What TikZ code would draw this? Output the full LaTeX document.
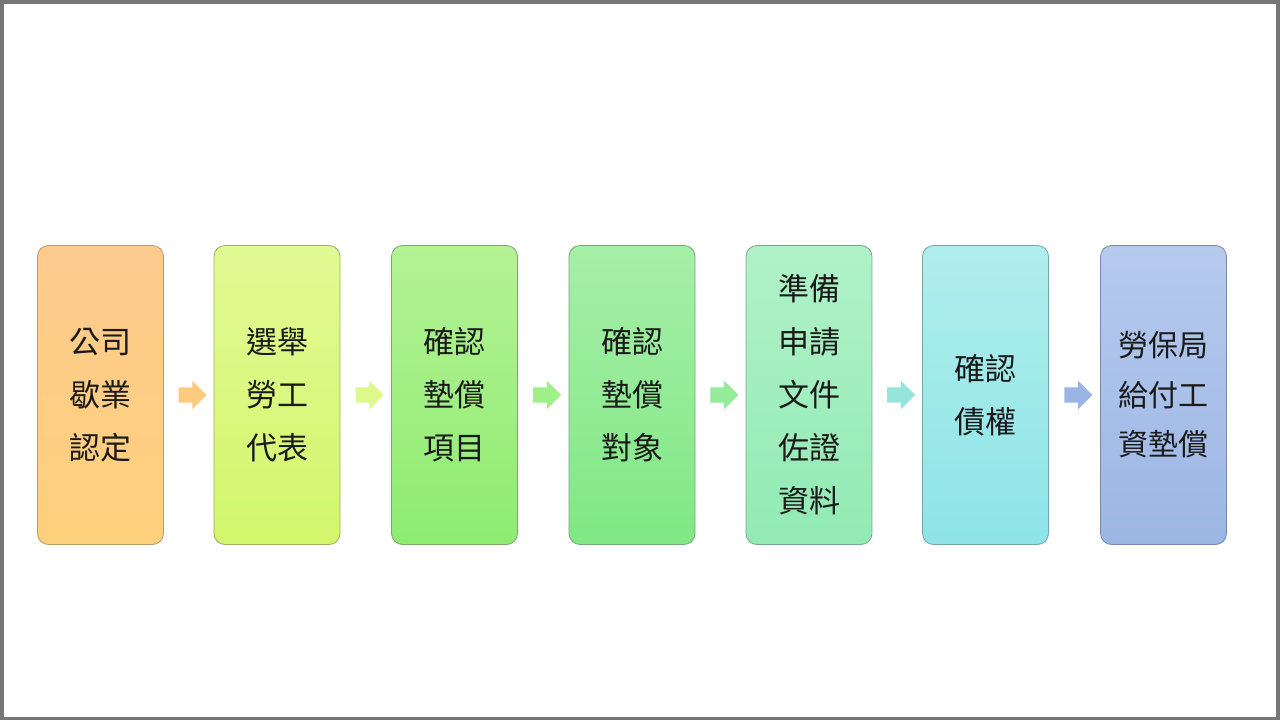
\documentclass[tikz,border=0pt]{standalone}
\usepackage{fontspec}
\newfontfamily\cjk{Noto Sans CJK TC}
\usetikzlibrary{shapes.arrows}
\definecolor{frame}{HTML}{767676}
\definecolor{txt}{HTML}{1A1A1A}
\definecolor{t1}{HTML}{FDCB8E}\definecolor{u1}{HTML}{FDD07C}\definecolor{d1}{HTML}{B89A6A}
\definecolor{t2}{HTML}{E2FA94}\definecolor{u2}{HTML}{D2F66C}\definecolor{d2}{HTML}{9AAF66}
\definecolor{t3}{HTML}{B4F294}\definecolor{u3}{HTML}{8EEC72}\definecolor{d3}{HTML}{7FA76C}
\definecolor{t4}{HTML}{A6EFA8}\definecolor{u4}{HTML}{80E884}\definecolor{d4}{HTML}{74A878}
\definecolor{t5}{HTML}{B0F2C8}\definecolor{u5}{HTML}{92EAB4}\definecolor{d5}{HTML}{78A890}
\definecolor{t6}{HTML}{B0EEEC}\definecolor{u6}{HTML}{8EE4E8}\definecolor{d6}{HTML}{74A6AA}
\definecolor{t7}{HTML}{B6CAEE}\definecolor{u7}{HTML}{9CB6E4}\definecolor{d7}{HTML}{7888AE}
\definecolor{a1c}{HTML}{FDCB80}\definecolor{a2c}{HTML}{DDF98C}\definecolor{a3c}{HTML}{A0F08A}
\definecolor{a4c}{HTML}{92EC98}\definecolor{a5c}{HTML}{94E6DC}\definecolor{a6c}{HTML}{9AB4E6}
\tikzset{
  stepbox/.style={draw=d#1, line width=0.8pt, rounded corners=11pt,
    minimum width=126pt, minimum height=299pt, top color=t#1, bottom color=u#1,
    inner sep=0pt, align=center, font=\cjk\fontsize{31}{53}\selectfont, text=txt},
  flowarrow/.style={single arrow, draw=none, fill=#1, minimum height=28pt,
    inner xsep=0pt, inner ysep=7.5pt, single arrow head extend=6.5pt,
    text height=0pt, text depth=0pt, text width=0pt}
}
\begin{document}
\begin{tikzpicture}[x=1pt,y=-1pt]
\useasboundingbox (0,0) rectangle (1280,720);
\fill[frame] (0,0) rectangle (1280,720);
\fill[white] (4,4) rectangle (1276,717);
\node[stepbox=1] (b1) at (100.5,395) {公司\\歇業\\認定};
\node[stepbox=2] (b2) at (277,395) {選舉\\勞工\\代表};
\node[stepbox=3] (b3) at (454.5,395) {確認\\墊償\\項目};
\node[stepbox=4] (b4) at (632,395) {確認\\墊償\\對象};
\node[stepbox=5] (b5) at (809,395) {準備\\申請\\文件\\佐證\\資料};
\node[stepbox=6] (b6) at (985.5,395) {確認\\債權};
\node[stepbox=7, font=\cjk\fontsize{30}{49.5}\selectfont] (b7) at (1163.5,395) {勞保局\\給付工\\資墊償};
\path (b1.east) -- (b2.west) node[midway, flowarrow=a1c] (a1) {};
\path (b2.east) -- (b3.west) node[midway, flowarrow=a2c] (a2) {};
\path (b3.east) -- (b4.west) node[midway, flowarrow=a3c] (a3) {};
\path (b4.east) -- (b5.west) node[midway, flowarrow=a4c] (a4) {};
\path (b5.east) -- (b6.west) node[midway, flowarrow=a5c] (a5) {};
\path (b6.east) -- (b7.west) node[midway, flowarrow=a6c] (a6) {};
\end{tikzpicture}
\end{document}
